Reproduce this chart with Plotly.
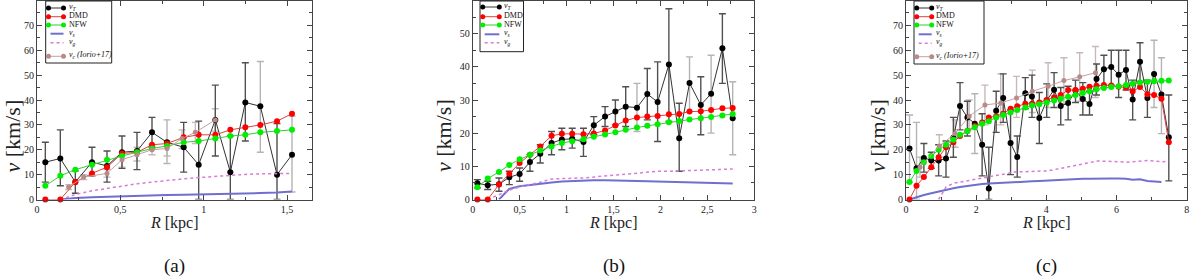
import plotly.graph_objects as go

W, H = 1200, 280

# ---------------- Panel (a) ----------------
a_R = [0.05, 0.14, 0.23, 0.33, 0.42, 0.51, 0.60, 0.69, 0.78, 0.88, 0.97, 1.07, 1.16, 1.25, 1.34, 1.44, 1.53]
a_vT = [15, 16.5, 7, 15, 13.5, 19, 19.5, 27, 23, 21, 14, 32, 11, 39, 37.5, 10, 18]
a_vT_lo = [7, 5.5, 2.5, 9.5, 7, 12.5, 12, 21, 14.5, 11, 0, 17.5, 0, 23.5, 19, 0, 3]
a_vT_hi = [23, 28, 11.5, 21, 19.5, 25.5, 27, 33, 32, 31, 31.5, 46, 25.5, 55, 55.5, 30.5, 33.5]
a_DMD = [0, 0, 7, 10.5, 13, 18.5, 19, 22, 22.5, 25, 26, 26, 28, 29, 30, 31.5, 34.5]
a_NFW = [5.5, 9.5, 12, 14, 16, 17.5, 19, 20.5, 21.5, 23, 23.5, 24.5, 25.5, 26, 27, 27.5, 28]
a_vs_R = [0.14, 0.23, 0.33, 0.42, 0.51, 0.60, 0.69, 0.78, 0.88, 0.97, 1.07, 1.16, 1.25, 1.34, 1.44, 1.53]
a_vs = [0, 0.6, 0.9, 1.1, 1.4, 1.5, 1.7, 1.8, 1.9, 2.0, 2.1, 2.2, 2.4, 2.6, 2.8, 3.2]
a_vg_R = [0.14, 0.23, 0.33, 0.42, 0.51, 0.60, 0.69, 0.78, 0.88, 0.97, 1.07, 1.16, 1.25, 1.34, 1.44, 1.53]
a_vg = [0, 2, 3.5, 4.5, 5.5, 6.3, 7, 7.7, 8.3, 8.8, 9.3, 9.8, 10.1, 10.3, 10.4, 10.5]
a_Io_R = [0.19, 0.28, 0.42, 0.51, 0.60, 0.69, 0.78, 0.87, 0.95, 1.07]
a_Io = [5, 9, 10.5, 16, 18, 20, 20.5, 24.5, 27, 32]
a_Io_lo = [4, 8, 9, 13, 15.5, 18, 17.5, 20.5, 22.5, 27.5]
a_Io_hi = [6, 10, 12, 19, 21, 22, 23.5, 28, 31, 36.5]

# ---------------- Panel (b) ----------------
b_R = [0.05, 0.16, 0.28, 0.39, 0.50, 0.61, 0.72, 0.84, 0.95, 1.06, 1.18, 1.29, 1.41, 1.52, 1.63,
       1.75, 1.86, 1.97, 2.09, 2.20, 2.31, 2.43, 2.54, 2.66, 2.77]
b_vT = [4.9, 4.3, 4.6, 6.7, 7.7, 11.3, 13.8, 17, 18.1, 18.3, 17.3, 22.4, 25, 26.5, 28,
        27.7, 31.8, 29.4, 40.7, 18.5, 35.1, 28.5, 31.9, 45.6, 24.5]
b_vT_lo = [3.5, 3, 2.5, 4.5, 5.5, 8.5, 11, 13.5, 15, 15.5, 13, 19.5, 22, 22.5, 22,
           20.5, 24, 17.5, 23.5, 8.5, 26.5, 19.5, 20, 35, 13.5]
b_vT_hi = [6, 5.5, 6.5, 8.5, 9.5, 13.5, 16.5, 20.5, 21.5, 21.5, 21.5, 25, 28, 30, 34,
           35, 39.5, 41.5, 57.5, 29, 43, 37, 43.5, 56, 35.5]
b_DMD = [0, 0, 4.5, 7.8, 11, 13.5, 16, 19.2, 19.8, 19.8, 19.7, 19.9, 20.8, 22.3, 23.8,
         24.7, 25, 25.2, 25.7, 25.8, 26.5, 26.6, 27, 27.5, 27.6]
b_NFW = [3.7, 6.3, 8.3, 10.4, 12.1, 13.5, 14.8, 16, 17, 17.6, 18.2, 18.9, 19.6, 20.3, 21,
         21.7, 22.2, 22.7, 23.3, 23.7, 24.1, 24.5, 24.9, 25.3, 25.8]
b_vs_R = [0.28, 0.39, 0.50, 0.61, 0.72, 0.84, 0.95, 1.06, 1.18, 1.29, 1.41, 1.52, 1.63,
          1.75, 1.86, 1.97, 2.09, 2.20, 2.31, 2.43, 2.54, 2.66, 2.77]
b_vs = [0, 3.2, 4, 4.4, 4.8, 5.1, 5.4, 5.6, 5.7, 5.8, 5.8, 5.8, 5.8,
        5.6, 5.5, 5.4, 5.3, 5.2, 5.1, 5, 4.9, 4.8, 4.8]
b_vg_R = [0.16, 0.28, 0.39, 0.50, 0.61, 0.72, 0.84, 0.95, 1.06, 1.18, 1.29, 1.41, 1.52, 1.63,
          1.75, 1.86, 1.97, 2.09, 2.20, 2.31, 2.43, 2.54, 2.66, 2.77]
b_vg = [0, 1.5, 2.8, 3.8, 4.5, 5.2, 6.2, 6.4, 6.4, 6.5, 6.8, 7.1, 7.4, 7.7,
        8.1, 8.4, 8.5, 8.5, 8.6, 8.7, 8.8, 8.9, 9.0, 9.2]

# ---------------- Panel (c) ----------------
c_R = [0.1, 0.3, 0.51, 0.72, 0.93, 1.14, 1.35, 1.54, 1.75, 1.96, 2.17, 2.36, 2.57, 2.77, 2.98,
       3.17, 3.4, 3.59, 3.8, 4.01, 4.22, 4.41, 4.62, 4.83, 5.04, 5.23, 5.43, 5.64, 5.85, 6.06,
       6.27, 6.46, 6.67, 6.88, 7.07, 7.28, 7.49]
c_vT = [20.5, 12.6, 16.7, 15.7, 15.7, 16.5, 24.8, 37.6, 33, 30.5, 22, 4.4, 35.7, 40.8, 22.7,
        17.1, 42.7, 41.4, 32.8, 39.8, 44.1, 37.6, 38.8, 43.8, 40.4, 38.4, 48.4, 52.4, 53.3, 50.2,
        52.1, 40.2, 55.4, 40.8, 50.5, 42.2, 25]
c_vT_lo = [7, 0, 11, 12.5, 9.5, 9, 17, 28, 25.5, 18.5, 9.5, 0, 27, 31, 10,
           9, 36.5, 33, 22.5, 33, 37, 30, 32, 39, 34, 34, 42, 45, 46, 41,
           44, 32, 47.5, 33, 37, 26.5, 7.5]
c_vT_hi = [34, 31, 22.5, 19, 22, 23.5, 33, 47, 39.5, 42.5, 34.5, 21, 43.5, 50.5, 36,
           25.5, 49, 50, 43, 46.5, 51, 45, 45.5, 48, 47, 43.5, 54.5, 58, 60, 60,
           60, 48, 63, 48, 64, 57, 42]
c_DMD = [0, 5.5, 9, 13, 17, 21, 23, 25.5, 27.5, 29.5, 31, 33, 33.5, 34.5, 36.5,
         37.5, 38.5, 38.5, 39, 40, 41, 42, 44, 44, 44.5, 45.3, 45.7, 46, 45.8, 45.3,
         45, 43.5, 45.2, 42.3, 42, 40.5, 23]
c_NFW = [7, 11.5, 15, 17.5, 20, 22, 24, 26, 27.5, 29, 30.5, 31.5, 33, 34, 35,
         36, 37, 37.8, 38.3, 39, 39.8, 40.5, 41.3, 42, 42.8, 43.5, 44.3, 44.8, 45.2, 45.5,
         46, 46.5, 47, 47.3, 47.5, 47.7, 47.8]
c_vs_R = c_R[:36]
c_vs = [0, 1, 1.8, 2.5, 3.2, 4, 4.5, 5, 5.5, 6, 6.2, 6.4, 6.6, 6.8, 7,
        7.1, 7.2, 7.3, 7.4, 7.6, 7.8, 8, 8.2, 8.3, 8.3, 8.3, 8.4, 8.4, 8.4, 8.4,
        8.3, 7.9, 8.1, 7.4, 7.3, 7.0]
c_vg_R = c_R[4:]
c_vg = [0, 5, 6.5, 7, 7.5, 8, 8.5, 9, 9.5, 10, 10.8, 11.2, 11.2, 11.2, 11.3,
        11.5, 12, 12.5, 13, 13.5, 14, 14.8, 15.5, 15.5, 15.3, 15.2, 15, 15.2, 15.6, 15.7,
        15.5, 15.2, 15.3]
c_Io_R = [0.4, 0.95, 1.4, 1.8, 2.25, 2.7, 3.15, 3.6, 4.05, 4.5, 4.95, 5.4]
c_Io = [13, 21.5, 26.5, 33.5, 38, 38.8, 40.8, 43.5, 45.5, 47.8, 49.3, 51]
c_Io_lo = [9, 17, 21, 28, 30, 30, 33, 35, 37, 38.5, 39.5, 41]
c_Io_hi = [17, 26, 32, 40, 46, 50.5, 49.5, 52, 55, 57, 59, 61.5]

# axes settings
x_ranges = [[0, 1.65], [0, 3], [0, 8]]
y_ranges = [[0, 80], [0, 60], [0, 80]]
x_dticks = [0.5, 0.5, 2]
x_minor = [0.25, 0.25, 1]
panel_labels = ["(a)", "(b)", "(c)"]

# light-shaded error bars (render shading)
a_light = [8, 14, 16]
b_light = [15, 20, 22, 24]
c_light = [0, 1, 9, 34, 35]

# ---------------- styling ----------------
SERIF = "Liberation Serif"
C_T = "#000000"
C_DMD = "#ff0000"
C_NFW = "#00ee00"
C_S = "#6f6fcf"
C_G = "#d77bd7"
C_IO = "#b88a8a"
ERR_DARK = "#505050"
ERR_LIGHT = "#b4b4b4"
ERR_IO = "#c8b8b8"

domains_px = [(37, 312), (472.7, 754.3), (906, 1186.7)]
y_top_px, y_bot_px = 0.5, 199.5

fig = go.Figure()


def err_trace(R, v, lo, hi, idx, color, xa, ya):
    xs = [R[i] for i in idx]
    ys = [v[i] for i in idx]
    up = [hi[i] - v[i] for i in idx]
    dn = [v[i] - lo[i] for i in idx]
    return go.Scatter(x=xs, y=ys, mode="markers", marker=dict(size=1, color="rgba(0,0,0,0)"),
                      error_y=dict(type="data", symmetric=False, array=up, arrayminus=dn,
                                   color=color, thickness=1.4, width=3.5),
                      showlegend=False, hoverinfo="skip", cliponaxis=False, xaxis=xa, yaxis=ya)


def ml_trace(R, v, mcol, lcol, size, xa, ya, width=1):
    return go.Scatter(x=R, y=v, mode="lines+markers", marker=dict(size=size, color=mcol),
                      line=dict(color=lcol, width=width), showlegend=False, cliponaxis=False,
                      xaxis=xa, yaxis=ya)


def l_trace(R, v, col, width, dash, xa, ya):
    return go.Scatter(x=R, y=v, mode="lines", line=dict(color=col, width=width, dash=dash),
                      showlegend=False, cliponaxis=False, xaxis=xa, yaxis=ya)


panels = [
    dict(R=a_R, vT=a_vT, lo=a_vT_lo, hi=a_vT_hi, light=a_light, DMD=a_DMD, NFW=a_NFW,
         vsR=a_vs_R, vs=a_vs, vgR=a_vg_R, vg=a_vg,
         Io=(a_Io_R, a_Io, a_Io_lo, a_Io_hi)),
    dict(R=b_R, vT=b_vT, lo=b_vT_lo, hi=b_vT_hi, light=b_light, DMD=b_DMD, NFW=b_NFW,
         vsR=b_vs_R, vs=b_vs, vgR=b_vg_R, vg=b_vg, Io=None),
    dict(R=c_R, vT=c_vT, lo=c_vT_lo, hi=c_vT_hi, light=c_light, DMD=c_DMD, NFW=c_NFW,
         vsR=c_vs_R, vs=c_vs, vgR=c_vg_R, vg=c_vg,
         Io=(c_Io_R, c_Io, c_Io_lo, c_Io_hi)),
]

for k, p in enumerate(panels):
    xa = "x" if k == 0 else f"x{k+1}"
    ya = "y" if k == 0 else f"y{k+1}"
    n = len(p["R"])
    dark = [i for i in range(n) if i not in p["light"]]
    if p["Io"] is not None:
        IoR, Io, Iolo, Iohi = p["Io"]
        fig.add_trace(err_trace(IoR, Io, Iolo, Iohi, list(range(len(IoR))), ERR_IO, xa, ya))
    fig.add_trace(err_trace(p["R"], p["vT"], p["lo"], p["hi"], p["light"], ERR_LIGHT, xa, ya))
    fig.add_trace(err_trace(p["R"], p["vT"], p["lo"], p["hi"], dark, ERR_DARK, xa, ya))
    fig.add_trace(ml_trace(p["R"], p["vT"], C_T, "#333333", 6, xa, ya))
    fig.add_trace(l_trace(p["vsR"], p["vs"], C_S, 2, "solid", xa, ya))
    fig.add_trace(l_trace(p["vgR"], p["vg"], C_G, 1.5, "dot", xa, ya))
    fig.add_trace(ml_trace(p["R"], p["DMD"], C_DMD, "#e04040", 6, xa, ya))
    fig.add_trace(ml_trace(p["R"], p["NFW"], C_NFW, "#33cc33", 6, xa, ya))
    if p["Io"] is not None:
        IoR, Io, Iolo, Iohi = p["Io"]
        fig.add_trace(ml_trace(IoR, Io, C_IO, "#c8a0a0", 5, xa, ya))

layout = dict(width=W, height=H, margin=dict(l=0, r=0, t=0, b=0, autoexpand=False),
              paper_bgcolor="white", plot_bgcolor="white", separators=", ",
              showlegend=False, font=dict(family=SERIF, color="#222"))

ydom = [1 - y_bot_px / H, 1 - y_top_px / H]
for k in range(3):
    xs = "xaxis" if k == 0 else f"xaxis{k+1}"
    ys = "yaxis" if k == 0 else f"yaxis{k+1}"
    x0, x1 = domains_px[k]
    common = dict(showline=True, linecolor="#444", linewidth=1, mirror="ticks", ticks="inside",
                  ticklen=5, tickwidth=1, tickcolor="#444", showgrid=False, zeroline=False,
                  automargin=False,
                  tickfont=dict(family=SERIF, size=10, color="#222"), fixedrange=True)
    layout[xs] = dict(domain=[x0 / W, x1 / W], range=x_ranges[k], tick0=0, dtick=x_dticks[k],
                      anchor=("y" if k == 0 else f"y{k+1}"),
                      minor=dict(ticks="inside", ticklen=3, dtick=x_minor[k], tick0=0, tickcolor="#444"),
                      **common)
    layout[ys] = dict(domain=ydom, range=y_ranges[k], tick0=0, dtick=10,
                      anchor=("x" if k == 0 else f"x{k+1}"),
                      minor=dict(ticks="inside", ticklen=3, dtick=5, tick0=0, tickcolor="#444"),
                      **common)

fig.update_layout(**layout)

shapes = []
annotations = []


def px(x):
    return x / W


def py(y):
    return 1 - y / H


# axis titles and panel labels
ytitle_x = [11.5, 443, 877]
for k in range(3):
    x0, x1 = domains_px[k]
    annotations.append(dict(x=px((x0 + x1) / 2), y=py(223), xref="paper", yref="paper",
                            xanchor="center", yanchor="middle",
                            text="<i>R</i> [kpc]", showarrow=False,
                            font=dict(family=SERIF, size=16, color="#222")))
    annotations.append(dict(x=px(ytitle_x[k]), y=py(136), xref="paper", yref="paper",
                            xanchor="center", yanchor="middle",
                            text="<i>v</i> [km/s]", textangle=-90, showarrow=False,
                            font=dict(family=SERIF, size=22, color="#222")))
    annotations.append(dict(x=px((x0 + x1) / 2), y=py(266), xref="paper", yref="paper",
                            xanchor="center", yanchor="middle",
                            text=panel_labels[k], showarrow=False,
                            font=dict(family=SERIF, size=19, color="#111")))

# custom legends (pixel layout)
legend_entries = [
    ("ml", C_T, "#333333", "<i>v<sub>T</sub></i>"),
    ("ml", C_DMD, "#e04040", "DMD"),
    ("ml", C_NFW, "#33cc33", "NFW"),
    ("l", C_S, "solid", "<i>v<sub>s</sub></i>"),
    ("d", C_G, "dot", "<i>v<sub>g</sub></i>"),
    ("ml", C_IO, "#c8a0a0", "<i>v<sub>c</sub> (Iorio+17)</i>"),
]
legend_boxes = [
    dict(box=(45.7, 1, 111.7, 63), rows=[8, 16.7, 25, 33.7, 42.7, 56.3], sx=(48.5, 63.5), tx=66.5, n=6),
    dict(box=(480, 1, 523.5, 51.7), rows=[7, 16.7, 25, 34.3, 42.7], sx=(482.7, 499.3), tx=501.5, n=5),
    dict(box=(914, 1, 984, 64), rows=[8, 16.7, 25, 34.3, 43.3, 56.7], sx=(916.7, 931.7), tx=934, n=6),
]
for lb in legend_boxes:
    bx0, by0, bx1, by1 = lb["box"]
    shapes.append(dict(type="rect", xref="paper", yref="paper", x0=px(bx0), x1=px(bx1),
                       y0=py(by1), y1=py(by0), line=dict(color="#222", width=1),
                       fillcolor="white", layer="above"))
    for j in range(lb["n"]):
        kind, c1, c2, label = legend_entries[j]
        yy = lb["rows"][j]
        sx0, sx1 = lb["sx"]
        if kind == "ml":
            shapes.append(dict(type="line", xref="paper", yref="paper", x0=px(sx0), x1=px(sx1),
                               y0=py(yy), y1=py(yy), line=dict(color=c2, width=1), layer="above"))
            for cx in (sx0, sx1):
                r = 2.5
                shapes.append(dict(type="circle", xref="paper", yref="paper",
                                   x0=px(cx - r), x1=px(cx + r), y0=py(yy + r), y1=py(yy - r),
                                   fillcolor=c1, line=dict(color=c1, width=0), layer="above"))
        else:
            shapes.append(dict(type="line", xref="paper", yref="paper", x0=px(sx0 + 2), x1=px(sx1),
                               y0=py(yy), y1=py(yy),
                               line=dict(color=c1, width=2 if kind == "l" else 1.5,
                                         dash="solid" if kind == "l" else "dot"),
                               layer="above"))
        annotations.append(dict(x=px(lb["tx"]), y=py(yy - 1), xref="paper", yref="paper",
                                xanchor="left", yanchor="middle", text=label, showarrow=False,
                                font=dict(family=SERIF, size=8, color="#111")))

fig.update_layout(shapes=shapes, annotations=annotations)
fig.write_html("out.html", config={"displayModeBar": False},
               post_script="document.body.style.margin='0';document.body.style.overflow='hidden';")
